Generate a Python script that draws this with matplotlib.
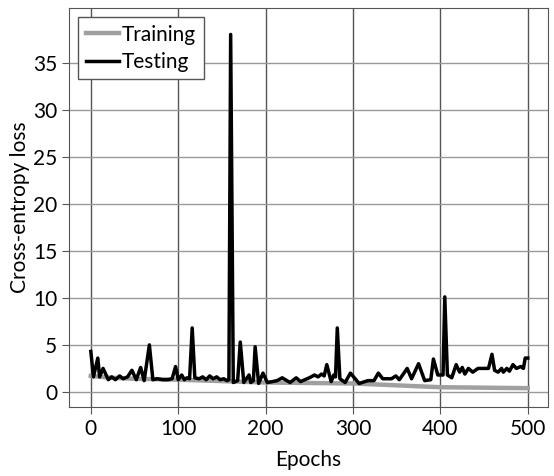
import matplotlib
matplotlib.use('Agg')
import matplotlib.pyplot as plt

plt.rcParams['font.family'] = ['Lato', 'DejaVu Sans']

# training loss (smooth)
train_epochs = [0, 25, 50, 100, 150, 200, 250, 300, 350, 400, 450, 500]
train_loss = [1.7, 1.5, 1.4, 1.3, 1.15, 1.0, 0.95, 0.9, 0.7, 0.5, 0.45, 0.4]

# testing loss (noisy, with spikes)
test_epochs = [0, 3, 8, 10, 14, 20, 24, 28, 33, 37, 42, 47, 52, 57, 61, 67, 71,
               76, 82, 88, 93, 97, 100, 104, 107, 110, 113, 116, 119, 124, 128,
               132, 136, 140, 144, 148, 152, 156, 158, 160, 163, 168, 171, 175,
               181, 183, 186, 188, 192, 197, 202, 208, 213, 219, 228, 235, 240,
               250, 256, 260, 264, 267, 270, 275, 278, 280, 282, 285, 291, 297,
               307, 317, 324, 329, 334, 344, 349, 353, 362, 367, 375, 382, 389,
               392, 397, 400, 403, 405, 408, 413, 418, 422, 425, 428, 432, 437,
               443, 452, 455, 459, 462, 466, 470, 472, 476, 479, 483, 487, 492,
               495, 497, 500]
test_loss = [4.3, 1.6, 3.6, 1.6, 2.5, 1.3, 1.6, 1.3, 1.7, 1.4, 1.6, 2.3, 1.3,
             2.6, 1.2, 5.0, 1.3, 1.4, 1.3, 1.3, 1.4, 2.7, 1.3, 1.8, 1.3, 1.5,
             1.4, 6.8, 1.5, 1.4, 1.6, 1.3, 1.7, 1.4, 1.6, 1.3, 1.4, 1.2, 1.3,
             38.0, 1.0, 1.2, 5.3, 1.0, 1.8, 1.0, 1.2, 4.8, 0.9, 2.0, 1.0, 1.1,
             1.2, 1.5, 1.0, 1.5, 1.1, 1.5, 1.8, 1.6, 1.9, 1.7, 2.9, 1.1, 1.8,
             1.6, 6.8, 1.4, 1.0, 2.0, 0.9, 1.2, 1.2, 2.0, 1.4, 1.4, 1.7, 1.3,
             2.5, 1.4, 3.0, 1.2, 1.3, 3.5, 1.8, 1.8, 1.8, 10.1, 1.8, 1.5, 2.9,
             2.1, 2.6, 1.9, 2.5, 2.1, 2.5, 2.5, 2.5, 4.0, 2.3, 2.1, 2.5, 2.1,
             2.5, 2.2, 2.9, 2.5, 2.7, 2.5, 3.6, 3.6]

fig = plt.figure(figsize=(5.54, 4.76), dpi=100)
ax = fig.add_axes([0.1245, 0.145, 0.8645, 0.838])

ax.plot(train_epochs, train_loss, color='#a0a0a0', lw=3.2, label='Training')
ax.plot(test_epochs, test_loss, color='black', lw=2.5, label='Testing')

ax.set_xlim(-25, 523)
ax.set_ylim(-1.6, 40.8)
ax.set_xticks([0, 100, 200, 300, 400, 500])
ax.set_yticks([0, 5, 10, 15, 20, 25, 30, 35])
ax.xaxis.grid(True, color='#555555', lw=1)
ax.yaxis.grid(True, color='#999999', lw=1)
ax.set_axisbelow(True)
for s in ax.spines.values():
    s.set_color('#555555')
ax.tick_params(labelsize=15, length=5, color='#555555')

ax.set_xlabel('Epochs', fontsize=15, labelpad=8)
ax.set_ylabel('Cross-entropy loss', fontsize=15, labelpad=2)

leg = ax.legend(loc='upper left', fontsize=15, fancybox=False, framealpha=1,
                edgecolor='#555555', handlelength=1.6, handletextpad=0.15,
                borderaxespad=0.45, labelspacing=0.35, borderpad=0.35)
leg.get_frame().set_linewidth(1)

plt.savefig('out.png', dpi=100)
plt.close()
